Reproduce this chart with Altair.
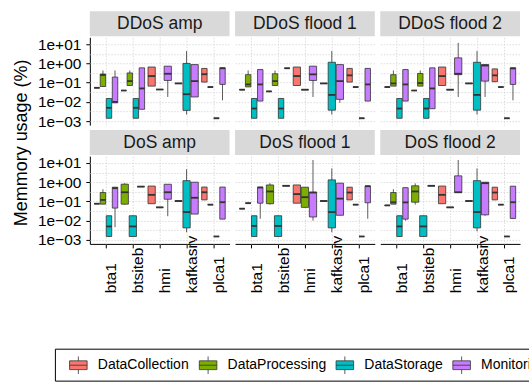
import altair as alt
import pandas as pd

panels = ["DDoS amp", "DDoS flood 1", "DDoS flood 2", "DoS amp", "DoS flood 1", "DoS flood 2"]
hosts = ["bta1", "btsiteb", "hmi", "kafkasrv", "plca1"]
groups = ["DataCollection", "DataProcessing", "DataStorage", "Monitoring"]
colors = ["#F8766D", "#7CAE00", "#00BFC4", "#C77CFF"]

# (host, group, lower whisker, q1, median, q3, upper whisker), memory usage in %
ddos_amp = [
    ("bta1", "DataCollection", 0.054, 0.054, 0.054, 0.054, 0.054),
    ("bta1", "DataProcessing", 0.063, 0.063, 0.25, 0.28, 0.43),
    ("bta1", "DataStorage", 0.0014, 0.0014, 0.0049, 0.015, 0.015),
    ("bta1", "Monitoring", 0.0089, 0.0089, 0.010, 0.195, 0.43),
    ("btsiteb", "DataCollection", 0.039, 0.039, 0.039, 0.039, 0.039),
    ("btsiteb", "DataProcessing", 0.071, 0.071, 0.12, 0.32, 0.43),
    ("btsiteb", "DataStorage", 0.0014, 0.0014, 0.0049, 0.015, 0.015),
    ("btsiteb", "Monitoring", 0.0041, 0.0041, 0.050, 0.59, 0.59),
    ("hmi", "DataCollection", 0.066, 0.066, 0.22, 0.65, 0.65),
    ("hmi", "DataProcessing", 0.044, 0.044, 0.044, 0.044, 0.044),
    ("hmi", "Monitoring", 0.018, 0.13, 0.29, 0.72, 0.72),
    ("kafkasrv", "DataProcessing", 0.091, 0.091, 0.091, 0.091, 0.091),
    ("kafkasrv", "DataStorage", 0.0022, 0.0036, 0.025, 1.0, 4.4),
    ("kafkasrv", "Monitoring", 0.018, 0.018, 0.12, 0.87, 0.87),
    ("plca1", "DataCollection", 0.107, 0.107, 0.275, 0.55, 0.55),
    ("plca1", "DataProcessing", 0.059, 0.059, 0.059, 0.059, 0.059),
    ("plca1", "DataStorage", 0.0014, 0.0014, 0.0014, 0.0014, 0.0014),
    ("plca1", "Monitoring", 0.012, 0.081, 0.56, 0.59, 0.59),
]
ddos_flood_1 = [
    ("bta1", "DataCollection", 0.043, 0.043, 0.043, 0.043, 0.043),
    ("bta1", "DataProcessing", 0.060, 0.060, 0.081, 0.26, 0.43),
    ("bta1", "DataStorage", 0.0014, 0.0014, 0.0045, 0.015, 0.015),
    ("bta1", "Monitoring", 0.011, 0.011, 0.081, 0.48, 0.48),
    ("btsiteb", "DataCollection", 0.035, 0.035, 0.035, 0.035, 0.035),
    ("btsiteb", "DataProcessing", 0.071, 0.071, 0.12, 0.29, 0.43),
    ("btsiteb", "DataStorage", 0.0014, 0.0014, 0.0045, 0.015, 0.015),
    ("btsiteb", "Monitoring", 0.56, 0.56, 0.56, 0.56, 0.56),
    ("hmi", "DataCollection", 0.071, 0.071, 0.22, 0.65, 0.65),
    ("hmi", "DataProcessing", 0.043, 0.043, 0.043, 0.043, 0.043),
    ("hmi", "Monitoring", 0.018, 0.13, 0.27, 0.72, 0.72),
    ("kafkasrv", "DataProcessing", 0.091, 0.091, 0.091, 0.091, 0.091),
    ("kafkasrv", "DataStorage", 0.0022, 0.0037, 0.023, 1.15, 4.4),
    ("kafkasrv", "Monitoring", 0.0089, 0.0135, 0.12, 0.87, 0.87),
    ("plca1", "DataCollection", 0.107, 0.107, 0.24, 0.55, 0.55),
    ("plca1", "DataProcessing", 0.059, 0.059, 0.059, 0.059, 0.059),
    ("plca1", "DataStorage", 0.0014, 0.0014, 0.0014, 0.0014, 0.0014),
    ("plca1", "Monitoring", 0.011, 0.011, 0.081, 0.55, 0.55),
]
ddos_flood_2 = [
    ("bta1", "DataCollection", 0.059, 0.059, 0.059, 0.059, 0.059),
    ("bta1", "DataProcessing", 0.066, 0.066, 0.091, 0.26, 0.43),
    ("bta1", "DataStorage", 0.0014, 0.0014, 0.0045, 0.015, 0.015),
    ("bta1", "Monitoring", 0.011, 0.011, 0.081, 0.48, 0.48),
    ("btsiteb", "DataCollection", 0.039, 0.039, 0.039, 0.039, 0.039),
    ("btsiteb", "DataProcessing", 0.066, 0.066, 0.095, 0.30, 0.43),
    ("btsiteb", "DataStorage", 0.0014, 0.0014, 0.0045, 0.015, 0.015),
    ("btsiteb", "Monitoring", 0.0044, 0.0044, 0.050, 0.59, 0.59),
    ("hmi", "DataCollection", 0.071, 0.071, 0.22, 0.65, 0.65),
    ("hmi", "DataProcessing", 0.043, 0.043, 0.043, 0.043, 0.043),
    ("hmi", "Monitoring", 0.018, 0.26, 0.29, 1.95, 11.7),
    ("kafkasrv", "DataProcessing", 0.091, 0.091, 0.091, 0.091, 0.091),
    ("kafkasrv", "DataStorage", 0.0022, 0.0037, 0.023, 1.15, 4.4),
    ("kafkasrv", "Monitoring", 0.018, 0.12, 0.78, 0.87, 0.87),
    ("plca1", "DataCollection", 0.112, 0.112, 0.24, 0.52, 0.52),
    ("plca1", "DataProcessing", 0.059, 0.059, 0.059, 0.059, 0.059),
    ("plca1", "DataStorage", 0.0014, 0.0014, 0.0014, 0.0014, 0.0014),
    ("plca1", "Monitoring", 0.012, 0.081, 0.55, 0.59, 0.59),
]
dos_amp = [
    ("bta1", "DataCollection", 0.076, 0.076, 0.076, 0.076, 0.076),
    ("bta1", "DataProcessing", 0.072, 0.072, 0.12, 0.29, 0.43),
    ("bta1", "DataStorage", 0.0015, 0.0015, 0.0050, 0.018, 0.018),
    ("bta1", "Monitoring", 0.0046, 0.045, 0.49, 0.55, 0.55),
    ("btsiteb", "DataProcessing", 0.068, 0.072, 0.30, 0.79, 0.89),
    ("btsiteb", "DataStorage", 0.0015, 0.0015, 0.0050, 0.018, 0.018),
    ("btsiteb", "Monitoring", 0.59, 0.59, 0.59, 0.59, 0.59),
    ("hmi", "DataCollection", 0.076, 0.076, 0.22, 0.63, 0.63),
    ("hmi", "DataProcessing", 0.049, 0.049, 0.049, 0.049, 0.049),
    ("hmi", "Monitoring", 0.017, 0.13, 0.30, 0.78, 0.78),
    ("kafkasrv", "DataProcessing", 0.105, 0.105, 0.105, 0.105, 0.105),
    ("kafkasrv", "DataStorage", 0.0025, 0.0042, 0.028, 1.2, 4.7),
    ("kafkasrv", "Monitoring", 0.022, 0.022, 0.155, 1.0, 1.0),
    ("plca1", "DataCollection", 0.12, 0.12, 0.30, 0.56, 0.56),
    ("plca1", "DataProcessing", 0.068, 0.068, 0.068, 0.068, 0.068),
    ("plca1", "DataStorage", 0.0015, 0.0015, 0.0015, 0.0015, 0.0015),
    ("plca1", "Monitoring", 0.012, 0.012, 0.091, 0.56, 0.56),
]
dos_flood_1 = [
    ("bta1", "DataCollection", 0.042, 0.042, 0.042, 0.042, 0.042),
    ("bta1", "DataProcessing", 0.081, 0.081, 0.081, 0.081, 0.081),
    ("bta1", "DataStorage", 0.0015, 0.0015, 0.0053, 0.018, 0.018),
    ("bta1", "Monitoring", 0.0126, 0.081, 0.53, 0.55, 0.55),
    ("btsiteb", "DataProcessing", 0.068, 0.076, 0.33, 0.72, 0.89),
    ("btsiteb", "DataStorage", 0.0015, 0.0015, 0.0053, 0.018, 0.018),
    ("btsiteb", "Monitoring", 0.65, 0.65, 0.65, 0.65, 0.65),
    ("hmi", "DataCollection", 0.081, 0.081, 0.24, 0.72, 0.72),
    ("hmi", "DataProcessing", 0.049, 0.049, 0.166, 0.55, 0.55),
    ("hmi", "Monitoring", 0.010, 0.0155, 0.29, 0.30, 14.3),
    ("kafkasrv", "DataProcessing", 0.105, 0.105, 0.105, 0.105, 0.105),
    ("kafkasrv", "DataStorage", 0.0025, 0.0042, 0.028, 1.32, 5.2),
    ("kafkasrv", "Monitoring", 0.019, 0.019, 0.14, 0.89, 0.89),
    ("plca1", "DataCollection", 0.12, 0.12, 0.29, 0.55, 0.55),
    ("plca1", "DataProcessing", 0.068, 0.068, 0.068, 0.068, 0.068),
    ("plca1", "DataStorage", 0.0015, 0.0015, 0.0015, 0.0015, 0.0015),
    ("plca1", "Monitoring", 0.0126, 0.085, 0.62, 0.63, 0.63),
]
dos_flood_2 = [
    ("bta1", "DataCollection", 0.062, 0.062, 0.062, 0.062, 0.062),
    ("bta1", "DataProcessing", 0.072, 0.072, 0.09, 0.29, 0.43),
    ("bta1", "DataStorage", 0.0015, 0.0015, 0.0050, 0.018, 0.018),
    ("bta1", "Monitoring", 0.010, 0.012, 0.089, 0.52, 0.52),
    ("btsiteb", "DataProcessing", 0.068, 0.091, 0.33, 0.65, 0.87),
    ("btsiteb", "DataStorage", 0.0015, 0.0015, 0.0050, 0.018, 0.018),
    ("btsiteb", "Monitoring", 0.65, 0.65, 0.65, 0.65, 0.65),
    ("hmi", "DataCollection", 0.076, 0.076, 0.22, 0.63, 0.63),
    ("hmi", "DataProcessing", 0.049, 0.049, 0.049, 0.049, 0.049),
    ("hmi", "Monitoring", 0.29, 0.29, 0.30, 2.14, 14.3),
    ("kafkasrv", "DataProcessing", 0.105, 0.105, 0.105, 0.105, 0.105),
    ("kafkasrv", "DataStorage", 0.0028, 0.0042, 0.028, 1.2, 5.2),
    ("kafkasrv", "Monitoring", 0.018, 0.020, 0.89, 1.0, 1.0),
    ("plca1", "DataCollection", 0.12, 0.12, 0.29, 0.55, 0.55),
    ("plca1", "DataProcessing", 0.068, 0.068, 0.068, 0.068, 0.068),
    ("plca1", "DataStorage", 0.0015, 0.0015, 0.0015, 0.0015, 0.0015),
    ("plca1", "Monitoring", 0.013, 0.013, 0.091, 0.62, 0.62),
]
panel_rows = [ddos_amp, ddos_flood_1, ddos_flood_2, dos_amp, dos_flood_1, dos_flood_2]

y_major = [0.001, 0.01, 0.1, 1, 10]
y_major_labels = ["1e\u221203", "1e\u221202", "1e\u221201", "1e+00", "1e+01"]
y_minor = [10 ** -2.5, 10 ** -1.5, 10 ** -0.5, 10 ** 0.5]

PANEL_W, PANEL_H = 140, 88
DODGE, PAD = 0.9, 0.1

# dodge boxes among the groups present at each host, as ggplot's position_dodge2 does
records = []
for panel, rows in zip(panels, panel_rows):
    for h_i, host in enumerate(hosts):
        present = [r for r in rows if r[0] == host]
        n = len(present)
        slot = DODGE / n
        for j, (_, grp, lo, q1, med, q3, hi) in enumerate(present):
            centre = h_i + 1 - DODGE / 2 + (j + 0.5) * slot
            half = slot * (1 - PAD) / 2
            records.append(dict(panel=panel, host=host, group=grp, key=grp, pos=centre,
                                x1=centre - half, x2=centre + half,
                                lo=lo, q1=q1, med=med, q3=q3, hi=hi))
df = pd.DataFrame(records)
df["strip"] = ~df.duplicated("panel")

x_label_expr = "[" + ",".join(f"'{h}'" for h in hosts) + "][round(datum.value) - 1]"
y_label_expr = " : ".join(
    f"abs(datum.value - {v}) < {v * 0.01} ? '{lab}'" for v, lab in zip(y_major, y_major_labels)
) + " : ''"
major_test = "indexof([" + ",".join(str(v) for v in y_major) + "], datum.value) >= 0"

grid_kw = dict(grid=True, gridColor="#D4D4D4", gridDash=[1.5, 1.5], gridWidth=0.8)

x_axis = alt.Axis(values=list(range(1, len(hosts) + 1)), labelExpr=x_label_expr,
                  labelAngle=-90, labelAlign="left", labelBaseline="middle",
                  labelPadding=45, labelOffset=5, labelFontSize=15.5, labelColor="black",
                  tickColor="black", tickSize=4, domainColor="black", domainWidth=1,
                  **grid_kw)
y_axis = alt.Axis(values=sorted(y_major + y_minor), labelExpr=y_label_expr,
                  labelFontSize=15.5, labelColor="black", labelPadding=5,
                  tickColor="black", tickSize=4,
                  tickOpacity={"condition": {"test": major_test, "value": 1}, "value": 0},
                  domainColor="black", domainWidth=1, **grid_kw)

x_scale = alt.Scale(domain=[0.4, len(hosts) + 0.6], nice=False, zero=False)
y_scale = alt.Scale(type="log", domain=[10 ** -3.21, 10 ** 1.36], nice=False)

# legend layout shared by the key backgrounds and the coloured key glyphs
legend_kw = dict(title=None, orient="none", direction="horizontal",
                 legendX=-35, legendY=312, symbolSize=484, symbolOffset=7,
                 labelFontSize=14, labelOffset=8, columnPadding=-7, padding=5)
box_glyph = "M-0.8,-0.4H0.8V0.4H-0.8Z M-0.8,0H0.8 M0,-0.4V-0.8 M0,0.4V0.8"

base = alt.Chart(df)

whiskers = base.mark_rule(color="#333333", strokeWidth=0.8).encode(
    x=alt.X("pos:Q", scale=x_scale, axis=x_axis, title=None),
    y=alt.Y("lo:Q", scale=y_scale, axis=y_axis, title=None),
    y2="hi:Q",
)
boxes = base.mark_rect(stroke="#333333", strokeWidth=0.8).encode(
    x=alt.X("x1:Q", scale=x_scale, axis=x_axis, title=None),
    x2="x2:Q",
    y=alt.Y("q1:Q", scale=y_scale, axis=y_axis, title=None),
    y2="q3:Q",
    fill=alt.Fill("group:N", scale=alt.Scale(domain=groups, range=colors),
                  legend=alt.Legend(symbolType=box_glyph, symbolStrokeColor="#333333",
                                    symbolStrokeWidth=0.8, labelColor="black",
                                    strokeColor="black", zindex=1, **legend_kw)),
    opacity=alt.Opacity("key:N", scale=alt.Scale(domain=groups, range=[1, 1, 1, 1]),
                        legend=alt.Legend(symbolType="square", symbolFillColor="#EBEBEB",
                                          symbolStrokeWidth=0, labelColor="transparent",
                                          zindex=0, **legend_kw)),
)
medians = base.mark_rule(color="#333333", strokeWidth=1.8).encode(
    x=alt.X("x1:Q", scale=x_scale, axis=x_axis, title=None),
    x2="x2:Q",
    y=alt.Y("med:Q", scale=y_scale, axis=y_axis, title=None),
)
strip_bg = base.transform_filter("datum.strip").mark_rect(color="#D9D9D9").encode(
    x=alt.value(0), x2=alt.value(PANEL_W), y=alt.value(-26), y2=alt.value(-1),
)
strip_text = base.transform_filter("datum.strip").mark_text(
    fontSize=17.5, color="#1A1A1A", baseline="middle", align="center"
).encode(x=alt.value(PANEL_W / 2), y=alt.value(-13), text="panel:N")

# the legend runs past the right edge of the page, as in the original figure
chart = (
    alt.layer(whiskers, boxes, medians, strip_bg, strip_text)
    .properties(width=PANEL_W, height=PANEL_H)
    .facet(facet=alt.Facet("panel:N", sort=panels, title=None,
                           header=alt.Header(labels=False, labelFontSize=1,
                                             labelColor="transparent", labelPadding=0)),
           columns=3, spacing={"row": 31, "column": 5.5})
    .properties(bounds="flush",
                title=alt.TitleParams("Memmory usage (%)", orient="left", anchor="middle",
                                      fontSize=18, fontWeight="normal",
                                      color="black", offset=6, dx=53),
                padding={"left": 13, "top": 10, "right": -24, "bottom": 0})
    .configure(font="Liberation Sans")
    .configure_header(labels=False)
    .configure_view(strokeWidth=0)
)

chart.save("out.html", embed_options={"renderer": "svg", "actions": False})
